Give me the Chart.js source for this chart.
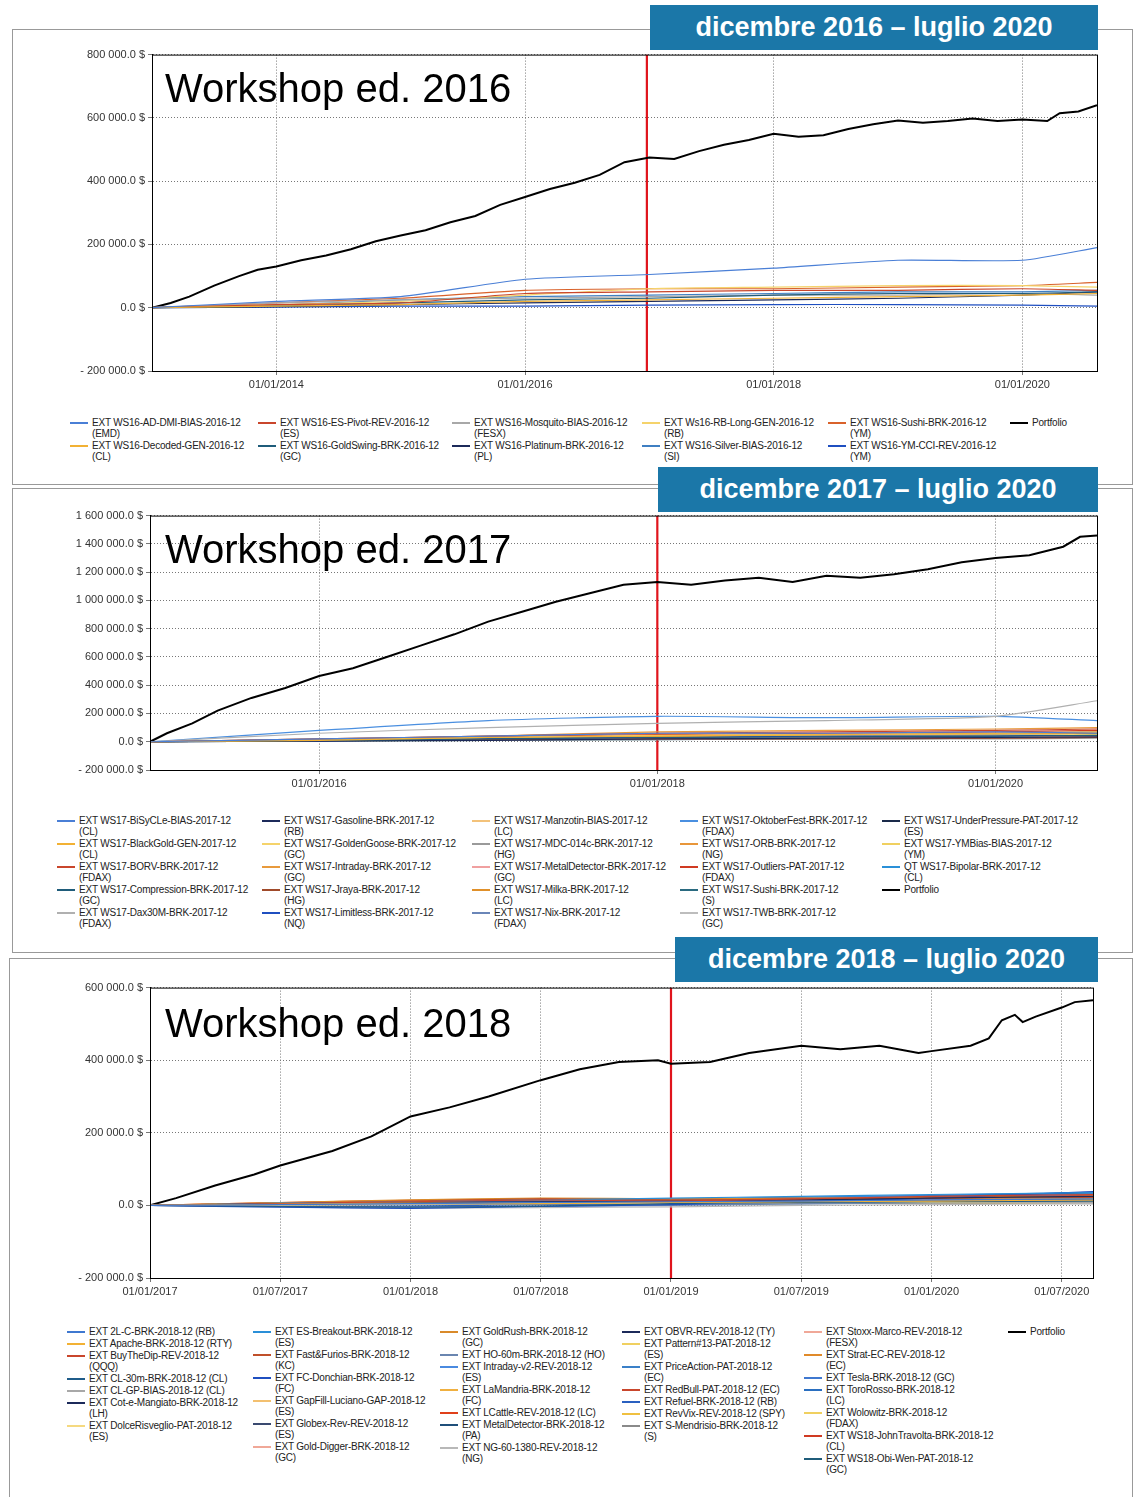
<!DOCTYPE html>
<html><head><meta charset="utf-8">
<script src="https://cdn.jsdelivr.net/npm/chart.js@4"></script>
<style>
body{margin:0;width:1140px;height:1497px;position:relative;background:#fff;font-family:"Liberation Sans",Arial,sans-serif;overflow:hidden}
.frame{position:absolute;border:1px solid #999;box-sizing:border-box}
.title{position:absolute;background:#1b77a8;color:#fff;font-weight:bold;font-size:27px;display:flex;align-items:center;justify-content:center;z-index:3}
.cv{position:absolute}
.ws{position:absolute;font-size:40px;color:#000;z-index:3}
.leg{position:absolute;font-size:10px;color:#222;line-height:11px;letter-spacing:-0.2px}
.item{position:relative;padding-left:22px;white-space:pre;margin-bottom:1px}
.item i{position:absolute;left:0;top:5px;width:18px;height:2px}
</style></head><body>
<script>
// ---------- DATA ----------
const p1Ticks=[2014,2016,2018,2020];
const p1TickLabels=['01/01/2014','01/01/2016','01/01/2018','01/01/2020'];
const p1PortX=[2013.0,2013.15,2013.3,2013.5,2013.7,2013.85,2014.0,2014.2,2014.4,2014.6,2014.8,2015.0,2015.2,2015.4,2015.6,2015.8,2016.0,2016.2,2016.4,2016.6,2016.8,2017.0,2017.2,2017.4,2017.6,2017.8,2018.0,2018.2,2018.4,2018.6,2018.8,2019.0,2019.2,2019.4,2019.6,2019.8,2020.0,2020.2,2020.3,2020.45,2020.6];
const p1PortY=[0,15,35,70,100,120,130,150,165,185,210,228,245,270,290,325,350,375,395,420,460,475,470,495,515,530,550,540,545,565,580,592,585,590,598,590,595,590,615,620,640];
const p1GridX=[2013,2014,2015,2016,2017,2018,2019,2020,2020.6];
const p1Names=['EXT WS16-AD-DMI-BIAS-2016-12\n(EMD)','EXT WS16-Decoded-GEN-2016-12\n(CL)','EXT WS16-ES-Pivot-REV-2016-12\n(ES)','EXT WS16-GoldSwing-BRK-2016-12\n(GC)','EXT WS16-Mosquito-BIAS-2016-12\n(FESX)','EXT WS16-Platinum-BRK-2016-12\n(PL)','EXT Ws16-RB-Long-GEN-2016-12\n(RB)','EXT WS16-Silver-BIAS-2016-12\n(SI)','EXT WS16-Sushi-BRK-2016-12\n(YM)','EXT WS16-YM-CCI-REV-2016-12\n(YM)'];
const p1Colors=['#4a7fd6','#f2b134','#c9462c','#1f5c7a','#a8a8a8','#1c2a5a','#f5d36b','#3f7fc2','#d9622b','#1f4fc0'];
const p1Values=[[0,20,35,90,105,125,150,150,190],[0,5,10,20,25,30,35,40,45],[0,10,15,45,50,55,55,60,55],[0,5,15,25,30,40,45,45,50],[0,15,25,30,35,40,40,45,40],[0,3,10,15,20,25,30,40,50],[0,10,20,40,60,65,70,70,65],[0,8,25,35,40,45,50,50,55],[0,15,30,55,60,60,65,70,80],[0,2,5,5,8,10,10,8,5]];

const p2Ticks=[2016,2018,2020];
const p2TickLabels=['01/01/2016','01/01/2018','01/01/2020'];
const p2PortX=[2015.0,2015.1,2015.25,2015.4,2015.6,2015.8,2016.0,2016.2,2016.4,2016.6,2016.8,2017.0,2017.2,2017.4,2017.6,2017.8,2018.0,2018.2,2018.4,2018.6,2018.8,2019.0,2019.2,2019.4,2019.6,2019.8,2020.0,2020.2,2020.4,2020.5,2020.6];
const p2PortY=[0,60,130,220,310,380,465,520,600,680,760,850,920,990,1050,1110,1130,1110,1140,1160,1130,1175,1160,1185,1220,1270,1300,1320,1380,1450,1460];
const p2GridX=[2015,2016,2017,2018,2019,2020,2020.6];
const p2Names=['EXT WS17-BiSyCLe-BIAS-2017-12\n(CL)','EXT WS17-BlackGold-GEN-2017-12\n(CL)','EXT WS17-BORV-BRK-2017-12\n(FDAX)','EXT WS17-Compression-BRK-2017-12\n(GC)','EXT WS17-Dax30M-BRK-2017-12\n(FDAX)','EXT WS17-Gasoline-BRK-2017-12\n(RB)','EXT WS17-GoldenGoose-BRK-2017-12\n(GC)','EXT WS17-Intraday-BRK-2017-12\n(GC)','EXT WS17-Jraya-BRK-2017-12\n(HG)','EXT WS17-Limitless-BRK-2017-12\n(NQ)','EXT WS17-Manzotin-BIAS-2017-12\n(LC)','EXT WS17-MDC-014c-BRK-2017-12\n(HG)','EXT WS17-MetalDetector-BRK-2017-12\n(GC)','EXT WS17-Milka-BRK-2017-12\n(LC)','EXT WS17-Nix-BRK-2017-12\n(FDAX)','EXT WS17-OktoberFest-BRK-2017-12\n(FDAX)','EXT WS17-ORB-BRK-2017-12\n(NG)','EXT WS17-Outliers-PAT-2017-12\n(FDAX)','EXT WS17-Sushi-BRK-2017-12\n(S)','EXT WS17-TWB-BRK-2017-12\n(GC)','EXT WS17-UnderPressure-PAT-2017-12\n(ES)','EXT WS17-YMBias-BIAS-2017-12\n(YM)','QT WS17-Bipolar-BRK-2017-12\n(CL)'];
const p2Colors=['#4a7fd6','#f2b134','#c9462c','#1f5c7a','#b0b0b0','#1c2a5a','#f5d36b','#e89a3c','#a04a2a','#1f4fc0','#f3c27a','#9a9a9a','#f0a0a0','#e0902a','#6a86b8','#4a8fe0','#e8963a','#d03a22','#2a6a80','#bdbdbd','#1a2a4a','#f0d060','#2a90d8'];
const p2Values=[[0,20,40,60,60,70,60],[0,10,30,40,50,60,70],[0,20,40,60,70,80,90],[0,10,20,30,35,40,45],[0,60,100,130,150,180,290],[0,5,10,20,25,30,35],[0,15,30,45,50,55,50],[0,20,40,70,80,90,100],[0,10,15,20,20,25,30],[0,5,20,30,40,40,50],[0,10,20,30,40,45,50],[0,5,10,15,20,20,25],[0,10,20,25,30,30,35],[0,15,25,35,45,55,60],[0,10,30,40,50,60,70],[0,80,150,180,170,180,150],[0,10,20,30,35,40,40],[0,15,35,50,60,70,80],[0,5,10,15,20,25,30],[0,10,15,25,30,30,40],[0,10,25,40,50,55,60],[0,5,15,20,30,35,35],[0,10,20,30,40,50,55]];

const p3Ticks=[2017,2017.5,2018,2018.5,2019,2019.5,2020,2020.5];
const p3TickLabels=['01/01/2017','01/07/2017','01/01/2018','01/07/2018','01/01/2019','01/07/2019','01/01/2020','01/07/2020'];
const p3PortX=[2017.0,2017.1,2017.25,2017.4,2017.5,2017.7,2017.85,2018.0,2018.15,2018.3,2018.5,2018.65,2018.8,2018.95,2019.0,2019.15,2019.3,2019.5,2019.65,2019.8,2019.95,2020.0,2020.15,2020.22,2020.27,2020.32,2020.35,2020.4,2020.5,2020.55,2020.62];
const p3PortY=[0,20,55,85,110,150,190,245,270,300,345,375,395,400,390,395,420,440,430,440,420,425,440,460,510,525,505,520,545,560,565];
const p3GridX=[2017,2017.5,2018,2018.5,2019,2019.5,2020,2020.62];
const p3Names=['EXT 2L-C-BRK-2018-12 (RB)','EXT Apache-BRK-2018-12 (RTY)','EXT BuyTheDip-REV-2018-12\n(QQQ)','EXT CL-30m-BRK-2018-12 (CL)','EXT CL-GP-BIAS-2018-12 (CL)','EXT Cot-e-Mangiato-BRK-2018-12\n(LH)','EXT DolceRisveglio-PAT-2018-12\n(ES)','EXT ES-Breakout-BRK-2018-12\n(ES)','EXT Fast&Furios-BRK-2018-12\n(KC)','EXT FC-Donchian-BRK-2018-12\n(FC)','EXT GapFill-Luciano-GAP-2018-12\n(ES)','EXT Globex-Rev-REV-2018-12\n(ES)','EXT Gold-Digger-BRK-2018-12\n(GC)','EXT GoldRush-BRK-2018-12\n(GC)','EXT HO-60m-BRK-2018-12 (HO)','EXT Intraday-v2-REV-2018-12\n(ES)','EXT LaMandria-BRK-2018-12\n(FC)','EXT LCattle-REV-2018-12 (LC)','EXT MetalDetector-BRK-2018-12\n(PA)','EXT NG-60-1380-REV-2018-12\n(NG)','EXT OBVR-REV-2018-12 (TY)','EXT Pattern#13-PAT-2018-12\n(ES)','EXT PriceAction-PAT-2018-12\n(EC)','EXT RedBull-PAT-2018-12 (EC)','EXT Refuel-BRK-2018-12 (RB)','EXT RevVix-REV-2018-12 (SPY)','EXT S-Mendrisio-BRK-2018-12\n(S)','EXT Stoxx-Marco-REV-2018-12\n(FESX)','EXT Strat-EC-REV-2018-12\n(EC)','EXT Tesla-BRK-2018-12 (GC)','EXT ToroRosso-BRK-2018-12\n(LC)','EXT Wolowitz-BRK-2018-12\n(FDAX)','EXT WS18-JohnTravolta-BRK-2018-12\n(CL)','EXT WS18-Obi-Wen-PAT-2018-12\n(GC)'];
const p3Colors=['#3f78d0','#f2b134','#c9462c','#1f5c8a','#a8a8a8','#1c2a5a','#f5d980','#2a8fd8','#c0502a','#1f4fc0','#f3c070','#3a4a70','#f0a898','#d98a2a','#6a86b0','#4a8ae0','#f0b040','#e0401a','#1f4f7a','#b8b8b8','#1c2a5a','#f0d060','#3a80c8','#c9462c','#2a60c0','#f0c040','#8a8a8a','#f0a898','#e08a2a','#3f78d0','#2a6fc0','#f0d060','#d03a22','#1f5c7a'];
const p3Values=[[0,2,5,8,10,12,15,18],[0,3,6,5,8,10,12,15],[0,5,10,15,12,18,25,30],[0,-3,-5,-2,5,8,10,12],[0,2,4,6,6,8,10,8],[0,4,8,10,12,15,20,25],[0,1,3,5,6,8,8,10],[0,6,10,15,20,25,30,35],[0,5,12,18,15,18,20,22],[0,-5,-8,-3,2,10,20,38],[0,2,5,7,9,10,12,12],[0,3,5,8,10,12,14,15],[0,4,6,8,10,10,12,14],[0,8,15,20,18,20,22,25],[0,-2,-4,-2,0,4,8,10],[0,5,8,12,15,20,25,30],[0,6,12,15,15,18,20,20],[0,8,14,18,16,20,22,28],[0,3,6,10,14,18,25,35],[0,-4,-8,-6,-4,0,2,5],[0,2,4,6,8,8,10,12],[0,3,6,8,10,10,12,14],[0,5,10,14,18,22,26,30],[0,6,10,14,16,18,20,22],[0,-3,-2,2,6,10,20,32],[0,2,5,8,8,10,8,6],[0,1,2,3,4,5,6,5],[0,4,8,10,12,14,16,18],[0,7,12,16,18,20,22,24],[0,4,8,12,16,22,28,36],[0,3,8,12,16,20,26,30],[0,2,4,6,8,10,10,12],[0,6,10,14,18,20,22,25],[0,3,6,9,12,14,16,18]];
// ---------- END DATA ----------

function fmt(v){const s=Math.abs(Math.round(v)).toString().replace(/\B(?=(\d{3})+(?!\d))/g,' ');return (v<0?'- ':'')+s+'.0 $';}
const boxPlugin={id:'box',afterDraw(c){const a=c.chartArea,x=c.ctx;x.save();x.strokeStyle='#000';x.lineWidth=1;x.setLineDash([]);x.strokeRect(a.left+0.5,a.top+0.5,a.right-a.left,a.bottom-a.top);x.restore();}};

function make(o){
  const f=document.createElement('div');f.className='frame';Object.assign(f.style,o.frame);document.body.appendChild(f);
  const t=document.createElement('div');t.className='title';t.textContent=o.title;Object.assign(t.style,o.tbox);document.body.appendChild(t);
  const w=document.createElement('div');w.className='ws';w.textContent=o.ws;Object.assign(w.style,o.wspos);document.body.appendChild(w);
  const d=document.createElement('div');d.className='cv';Object.assign(d.style,o.cv);const cv=document.createElement('canvas');d.appendChild(cv);document.body.appendChild(d);
  const ds=[];
  o.names.forEach((n,i)=>ds.push({data:o.gridX.map((x,j)=>({x,y:o.values[i][j]*1000})),borderColor:o.colors[i],borderWidth:1.2,pointRadius:0,tension:0.2}));
  ds.push({data:o.portX.map((x,j)=>({x,y:o.portY[j]*1000})),borderColor:'#000',borderWidth:2,pointRadius:0});
  ds.push({data:[{x:o.red,y:o.ymin},{x:o.red,y:o.ymax}],borderColor:'#e0141c',borderWidth:2.2,pointRadius:0});
  new Chart(cv,{type:'line',data:{datasets:ds},plugins:[boxPlugin],options:{responsive:true,maintainAspectRatio:false,animation:false,
    layout:{padding:{top:8,right:o.pr,left:0,bottom:0}},plugins:{legend:{display:false},tooltip:{enabled:false}},
    scales:{x:{type:'linear',min:o.xmin,max:o.xmax,afterFit(s){s.height=25;},
      afterBuildTicks(s){s.ticks=o.ticks.map(v=>({value:v}));},
      ticks:{autoSkip:false,maxRotation:0,color:'#333',font:{size:11,family:'Liberation Sans'},callback:(v,i)=>o.tickLabels[i]},
      grid:{color:'#777',tickLength:4},border:{color:'#000',dash:[1,2]}},
     y:{min:o.ymin,max:o.ymax,afterFit(s){s.width=o.yw;},ticks:{stepSize:200000,color:'#333',font:{size:11,family:'Liberation Sans'},callback:v=>fmt(v)},
      grid:{color:'#777',tickLength:4},border:{color:'#000',dash:[1,2]}}}}});
  const L=document.createElement('div');L.className='leg';Object.assign(L.style,o.legpos);document.body.appendChild(L);
  let k=0;o.cols.forEach((cnt,ci)=>{const col=document.createElement('div');col.style.position='absolute';col.style.left=o.colX[ci]+'px';col.style.top='0';
    for(let j=0;j<cnt;j++){const it=document.createElement('div');it.className='item';
      const isP=k>=o.names.length;const txt=isP?'Portfolio':o.names[k];const c=isP?'#000':o.colors[k];
      it.innerHTML='<i style="background:'+c+'"></i>';it.appendChild(document.createTextNode(txt));col.appendChild(it);k++;}
    L.appendChild(col);});
}

make({frame:{left:'12px',top:'29px',width:'1121px',height:'456px'},title:'dicembre 2016 – luglio 2020',tbox:{left:'650px',top:'5px',width:'448px',height:'45px'},
  ws:'Workshop ed. 2016',wspos:{left:'165px',top:'66px'},cv:{left:'12px',top:'45px',width:'1090px',height:'351px'},pr:5,yw:140,
  names:p1Names,colors:p1Colors,values:p1Values,gridX:p1GridX,portX:p1PortX,portY:p1PortY,red:2016.98,xmin:2013,xmax:2020.6,ymin:-200000,ymax:800000,
  ticks:p1Ticks,tickLabels:p1TickLabels,legpos:{left:'0px',top:'417px'},colX:[70,258,452,642,828,1010],cols:[2,2,2,2,2,1]});
make({frame:{left:'12px',top:'488px',width:'1121px',height:'465px'},title:'dicembre 2017 – luglio 2020',tbox:{left:'658px',top:'467px',width:'440px',height:'45px'},
  ws:'Workshop ed. 2017',wspos:{left:'165px',top:'527px'},cv:{left:'12px',top:'506px',width:'1090px',height:'289px'},pr:5,yw:138,
  names:p2Names,colors:p2Colors,values:p2Values,gridX:p2GridX,portX:p2PortX,portY:p2PortY,red:2018.0,xmin:2015,xmax:2020.6,ymin:-200000,ymax:1600000,
  ticks:p2Ticks,tickLabels:p2TickLabels,legpos:{left:'0px',top:'815px'},colX:[57,262,472,680,882],cols:[5,5,5,5,4]});
make({frame:{left:'9px',top:'958px',width:'1124px',height:'545px'},title:'dicembre 2018 – luglio 2020',tbox:{left:'675px',top:'937px',width:'423px',height:'45px'},
  ws:'Workshop ed. 2018',wspos:{left:'165px',top:'1001px'},cv:{left:'12px',top:'978px',width:'1086px',height:'325px'},pr:5,yw:138,
  names:p3Names,colors:p3Colors,values:p3Values,gridX:p3GridX,portX:p3PortX,portY:p3PortY,red:2019.0,xmin:2017,xmax:2020.62,ymin:-200000,ymax:600000,
  ticks:p3Ticks,tickLabels:p3TickLabels,legpos:{left:'0px',top:'1326px'},colX:[67,253,440,622,804,1008],cols:[7,6,7,7,7,1]});
</script>
</body></html>
